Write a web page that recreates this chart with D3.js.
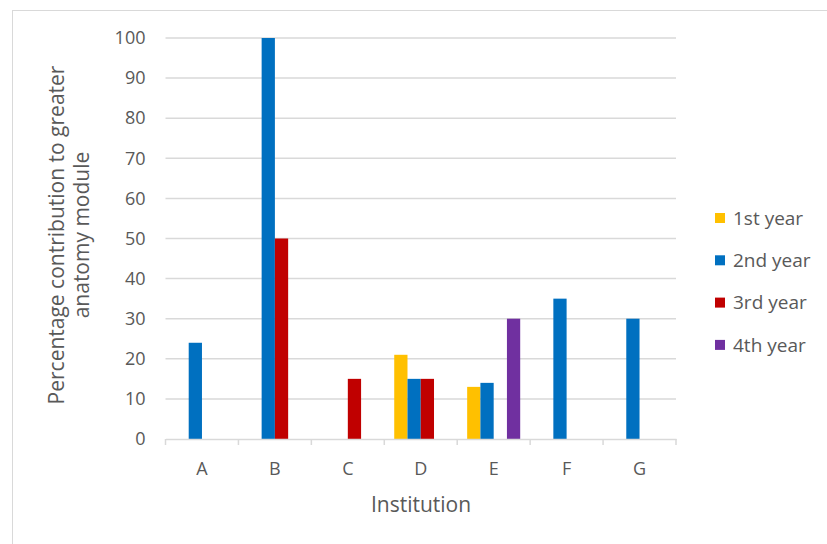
<!DOCTYPE html>
<html>
<head>
<meta charset="utf-8">
<script src="https://cdn.jsdelivr.net/npm/d3@7/dist/d3.min.js"></script>
<style>
  html, body { margin: 0; padding: 0; background: #ffffff; }
  svg { display: block; }
  svg text { font-family: "Open Sans", "Liberation Sans", sans-serif; }
</style>
</head>
<body>
<svg id="chart" width="827" height="544"></svg>
<script>
// Institutions on the x axis
const institutions = ["A", "B", "C", "D", "E", "F", "G"];
// Year groups (series)
const years = ["1st year", "2nd year", "3rd year", "4th year"];
const yearColors = ["#FFC000", "#0070C0", "#C00000", "#7030A0"];
// Percentage contribution per institution, one array per year group
const firstYear  = [0, 0, 0, 21, 13, 0, 0];
const secondYear = [24, 100, 0, 15, 14, 35, 30];
const thirdYear  = [0, 50, 15, 15, 0, 0, 0];
const fourthYear = [0, 0, 0, 0, 30, 0, 0];
const yTicks = [0, 10, 20, 30, 40, 50, 60, 70, 80, 90, 100];

const seriesValues = [firstYear, secondYear, thirdYear, fourthYear];

const svg = d3.select("#chart");
const textColor = "#595959";
const gridColor = "#d9d9d9";

// outer frame
svg.append("rect")
  .attr("x", 12.5).attr("y", 10.5)
  .attr("width", 830).attr("height", 550)
  .attr("fill", "none").attr("stroke", "#d9d9d9").attr("stroke-width", 1);

const plot = { left: 165.5, right: 676, top: 38, bottom: 439 };

const x0 = d3.scaleBand().domain(institutions).range([plot.left, plot.right]).padding(0);
const step = x0.bandwidth();
// 150% gap width: 4 bars + 1.5 bar of gap per category
const barW = step / 5.5;
const x1 = d3.scaleBand().domain(years)
  .range([barW * 0.75, barW * 0.75 + barW * 4]).padding(0);
const y = d3.scaleLinear().domain([0, 100]).range([plot.bottom, plot.top]);

// gridlines
svg.append("g")
  .selectAll("line")
  .data(yTicks.filter(d => d > 0))
  .join("line")
  .attr("x1", plot.left).attr("x2", plot.right)
  .attr("y1", d => y(d)).attr("y2", d => y(d))
  .attr("stroke", gridColor).attr("stroke-width", 1.5);

// y axis labels
const yAxis = d3.axisLeft(y).tickValues(yTicks).tickSize(0).tickPadding(20);
const gy = svg.append("g").attr("transform", `translate(${plot.left},0)`).call(yAxis);
gy.attr("font-family", null).attr("font-size", null);
gy.select(".domain").remove();
gy.selectAll("text")
  .attr("fill", textColor)
  .style("font-size", "18px");

// bars
const barData = [];
years.forEach((yr, si) => {
  institutions.forEach((inst, ci) => {
    const v = seriesValues[si][ci];
    if (v > 0) barData.push({ inst, yr, v, color: yearColors[si] });
  });
});
svg.append("g")
  .selectAll("rect")
  .data(barData)
  .join("rect")
  .attr("x", d => x0(d.inst) + x1(d.yr))
  .attr("width", x1.bandwidth())
  .attr("y", d => y(d.v))
  .attr("height", d => y(0) - y(d.v))
  .attr("fill", d => d.color);

// x axis
const xAxis = d3.axisBottom(x0).tickSize(0).tickPadding(23);
const gx = svg.append("g").attr("transform", `translate(0,${plot.bottom})`).call(xAxis);
gx.attr("font-family", null).attr("font-size", null);
gx.select(".domain").attr("stroke", gridColor).attr("stroke-width", 1.5);
gx.selectAll("text").attr("fill", textColor).style("font-size", "18px");
// category boundary ticks
gx.append("g").selectAll("line")
  .data(institutions.map(d => x0(d)).concat([plot.right]))
  .join("line")
  .attr("x1", d => d).attr("x2", d => d)
  .attr("y1", 0).attr("y2", 6)
  .attr("stroke", gridColor).attr("stroke-width", 1.5);

// axis titles
svg.append("text")
  .attr("x", 421).attr("y", 512)
  .attr("text-anchor", "middle")
  .attr("fill", textColor).style("font-size", "21px")
  .text("Institution");

const yTitle = svg.append("text")
  .attr("transform", "translate(64,235) rotate(-90)")
  .attr("text-anchor", "middle")
  .attr("fill", textColor).style("font-size", "21px");
yTitle.append("tspan").attr("x", 0).attr("dy", 0).text("Percentage contribution to greater");
yTitle.append("tspan").attr("x", 0).attr("dy", 25).text("anatomy module");

// legend
const legend = svg.append("g").selectAll("g")
  .data(years)
  .join("g")
  .attr("transform", (d, i) => `translate(715,${218 + i * 42.3})`);
legend.append("rect")
  .attr("x", 0).attr("y", -5).attr("width", 10).attr("height", 10)
  .attr("fill", (d, i) => yearColors[i]);
legend.append("text")
  .attr("x", 18).attr("y", 0).attr("dy", "0.35em")
  .attr("fill", textColor).style("font-size", "19px")
  .text(d => d);
</script>
</body>
</html>
